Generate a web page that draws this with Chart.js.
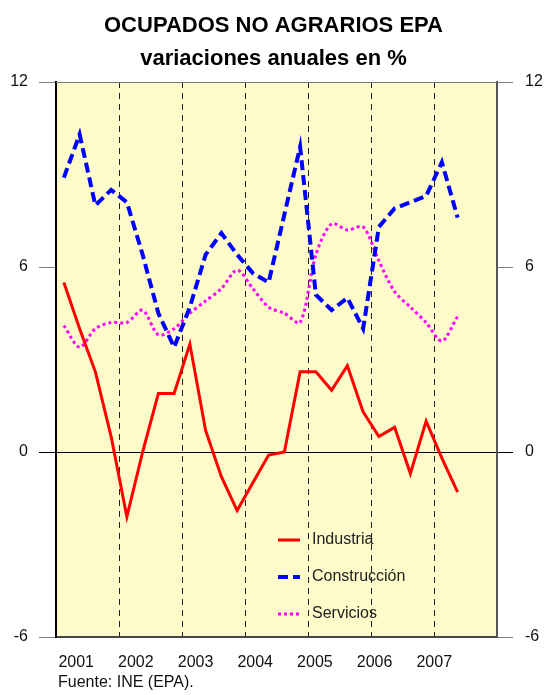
<!DOCTYPE html>
<html>
<head>
<meta charset="utf-8">
<script src="https://cdn.jsdelivr.net/npm/chart.js@4.4.0/dist/chart.umd.min.js"></script>
<style>
  html, body { margin: 0; padding: 0; background: #fff; }
</style>
</head>
<body>
<canvas id="chart" width="547" height="695"></canvas>
<script>
// years on the axis, quarters as categories (2001 T1 .. 2007 T4)
const years = ['2001', '2002', '2003', '2004', '2005', '2006', '2007'];
const quarters = years.flatMap(y => ['T1', 'T2', 'T3', 'T4'].map(q => q + ' ' + y));

// annual % change, 2001 T1 .. 2007 T2
const industria = [5.5, 4.0, 2.6, 0.5, -2.1, 0.0, 1.9, 1.9, 3.5, 0.7, -0.8, -1.9, -1.0,
  -0.1, 0.0, 2.6, 2.6, 2.0, 2.8, 1.3, 0.5, 0.8, -0.7, 1.0, -0.2, -1.3];
const construccion = [8.9, 10.3, 8.0, 8.5, 8.1, 6.4, 4.5, 3.4, 4.7, 6.4, 7.1, 6.4, 5.8,
  5.5, 7.7, 9.9, 5.1, 4.6, 5.0, 4.0, 7.3, 7.9, 8.1, 8.3, 9.4, 7.6];
const servicios = [4.1, 3.4, 4.0, 4.2, 4.2, 4.6, 3.8, 4.0, 4.5, 4.9, 5.3, 5.9, 5.3,
  4.7, 4.5, 4.2, 6.4, 7.4, 7.2, 7.3, 6.2, 5.2, 4.7, 4.2, 3.6, 4.4];

const yTicks = [-6, 0, 6, 12];
const fontFam = '"Liberation Sans", Arial, sans-serif';

// background, top frame line, legend inside the plot and the source note
const decor = {
  id: 'decor',
  beforeDraw(chart) {
    const { ctx, chartArea: a } = chart;
    ctx.save();
    ctx.fillStyle = '#fcfbc9';
    ctx.fillRect(a.left, a.top, a.right - a.left, a.bottom - a.top);
    ctx.restore();
  },
  afterDatasetsDraw(chart) {
    const { ctx, chartArea: a } = chart;
    ctx.save();
    ctx.strokeStyle = '#777';
    ctx.lineWidth = 1;
    ctx.beginPath();
    ctx.moveTo(a.left, a.top + 0.5);
    ctx.lineTo(a.right, a.top + 0.5);
    ctx.stroke();

    // legend
    const rows = [540, 577, 614];
    ctx.font = '16px ' + fontFam;
    ctx.textBaseline = 'middle';
    chart.data.datasets.forEach((ds, i) => {
      ctx.strokeStyle = ds.borderColor;
      ctx.lineWidth = ds.borderWidth;
      ctx.setLineDash(ds.borderDash || []);
      ctx.beginPath();
      ctx.moveTo(278, rows[i]);
      ctx.lineTo(300, rows[i]);
      ctx.stroke();
      ctx.setLineDash([]);
      ctx.fillStyle = '#222';
      ctx.fillText(ds.label, 312, rows[i]);
    });

    ctx.fillStyle = '#111';
    ctx.textBaseline = 'alphabetic';
    ctx.fillText('Fuente: INE (EPA).', 58, 687);
    ctx.restore();
  }
};

const tickCol = c => (c.tick && c.tick.value === 0 ? '#000' : '#808080');

new Chart(document.getElementById('chart'), {
  type: 'line',
  data: {
    labels: quarters,
    datasets: [
      { label: 'Industria', data: industria, borderColor: '#ff0000', borderWidth: 3,
        pointRadius: 0, tension: 0 },
      { label: 'Construcción', data: construccion, borderColor: '#0000ff', borderWidth: 4,
        borderDash: [10, 5], pointRadius: 0, tension: 0 },
      { label: 'Servicios', data: servicios, borderColor: '#ff00ff', borderWidth: 3,
        borderDash: [3, 3], pointRadius: 0, tension: 0.3 }
    ]
  },
  options: {
    responsive: false,
    animation: false,
    devicePixelRatio: 1,
    layout: { padding: 0 },
    plugins: {
      legend: { display: false },
      tooltip: { enabled: false },
      title: {
        display: true,
        text: ['OCUPADOS NO AGRARIOS EPA', 'variaciones anuales en %'],
        color: '#000',
        font: { family: fontFam, size: 22, weight: 'bold', lineHeight: 1.5 },
        padding: { top: 9, bottom: 7 }
      }
    },
    scales: {
      x: {
        type: 'category',
        position: 'bottom',
        offset: true,
        ticks: { display: false },
        border: { display: false, dash: [6, 5] },
        grid: {
          offset: true,
          drawTicks: false,
          lineWidth: 1,
          color: c => (c.index > 0 && c.index < quarters.length && c.index % 4 === 0 ? '#222' : 'rgba(0,0,0,0)')
        },
        afterFit: s => { s.height = 0; }
      },
      x2: {
        type: 'linear',
        position: 'bottom',
        min: -0.04,
        max: 7.35,
        afterBuildTicks: s => { s.ticks = years.map((_, i) => ({ value: i })); },
        ticks: {
          autoSkip: false,
          maxRotation: 0,
          align: 'start',
          padding: 8,
          color: '#111',
          font: { family: fontFam, size: 16 },
          callback: v => years[v]
        },
        grid: { display: false },
        border: { display: true, color: '#444', width: 2 },
        afterFit: s => { s.height = 58; }
      },
      y: {
        position: 'left',
        min: -6,
        max: 12,
        afterBuildTicks: s => { s.ticks = yTicks.map(v => ({ value: v })); },
        ticks: { padding: 11, color: '#111', font: { family: fontFam, size: 16 } },
        grid: {
          drawOnChartArea: true,
          tickLength: 17,
          lineWidth: 1,
          color: c => (c.tick && c.tick.value === 0 ? '#000' : 'rgba(0,0,0,0)'),
          tickColor: tickCol
        },
        border: { display: true, color: '#000', width: 2 },
        afterFit: s => { s.width = 56; }
      },
      yRight: {
        position: 'right',
        min: -6,
        max: 12,
        afterBuildTicks: s => { s.ticks = yTicks.map(v => ({ value: v })); },
        ticks: { padding: 12, color: '#111', font: { family: fontFam, size: 16 } },
        grid: { drawOnChartArea: false, tickLength: 16, tickColor: tickCol },
        border: { display: true, color: '#555', width: 2 },
        afterFit: s => { s.width = 50; }
      }
    }
  },
  plugins: [decor]
});
</script>
</body>
</html>
